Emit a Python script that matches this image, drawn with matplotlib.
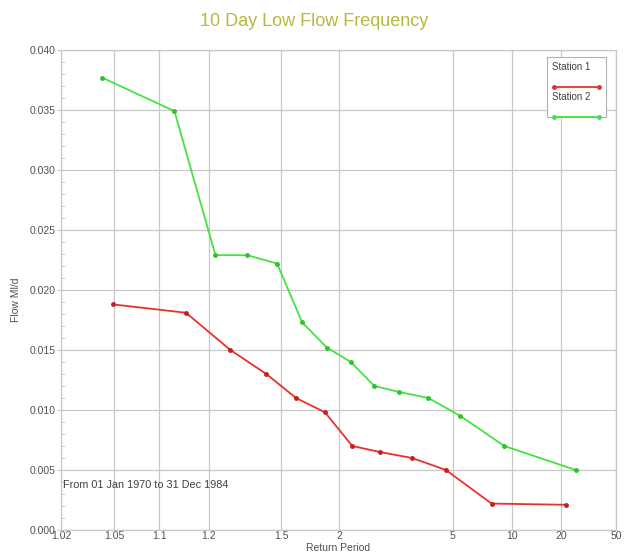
#!/usr/bin/env python3
"""10 day low flow frequency plot on a normal probability (return period) axis."""

import math
from statistics import NormalDist

import numpy as np
import matplotlib
matplotlib.use("Agg")
import matplotlib.pyplot as plt
from matplotlib.ticker import FixedLocator, FixedFormatter, AutoMinorLocator, NullLocator
from matplotlib.patches import Rectangle

plt.rcParams['font.family'] = ['Liberation Sans', 'DejaVu Sans']

# --- data ---
station1_T = [1.049, 1.147, 1.266, 1.418, 1.599, 1.847, 2.17, 2.62, 3.40, 4.67, 7.75, 21.6]
station1_Q = [0.0188, 0.0181, 0.0150, 0.0130, 0.0110, 0.0098, 0.0070, 0.0065, 0.0060, 0.0050, 0.0022, 0.0021]

station2_T = [1.041, 1.125, 1.219, 1.330, 1.477, 1.645, 1.866, 2.147, 2.52, 3.05, 3.94, 5.43, 9.07, 25.2]
station2_Q = [0.0377, 0.0349, 0.0229, 0.0229, 0.0222, 0.0173, 0.0152, 0.0140, 0.0120, 0.0115, 0.0110,
              0.0095, 0.0070, 0.0050]

period_ticks = [1.02, 1.05, 1.1, 1.2, 1.5, 2, 5, 10, 20, 50]
period_labels = ["1.02", "1.05", "1.1", "1.2", "1.5", "2", "5", "10", "20", "50"]
flow_ticks = [0.000, 0.005, 0.010, 0.015, 0.020, 0.025, 0.030, 0.035, 0.040]

RED = '#e8302c'
GREEN = '#44e244'
GRID = '#c8c8c8'
TXT = '#505050'

_nd = NormalDist()


def _fwd_scalar(t):
    p = 1.0 - 1.0 / t if t > 0 else 1e-9
    p = min(max(p, 1e-9), 1 - 1e-9)
    return _nd.inv_cdf(p)


def _inv_scalar(z):
    p = 0.5 * (1.0 + math.erf(z / math.sqrt(2.0)))
    p = min(p, 1 - 1e-12)
    return 1.0 / (1.0 - p)


fwd = np.vectorize(_fwd_scalar, otypes=[float])
inv = np.vectorize(_inv_scalar, otypes=[float])

fig = plt.figure(figsize=(6.24, 5.56), dpi=100)
ax = fig.add_axes([0.0978, 0.0468, 0.8894, 0.8633])

ax.set_xscale('function', functions=(fwd, inv))
ax.set_xlim(1.02, 50)
ax.set_ylim(0.0, 0.040)

ax.plot(station1_T, station1_Q, color=RED, lw=1.3, marker='o', ms=2.5, mfc='#c02020', mec='#c02020')
ax.plot(station2_T, station2_Q, color=GREEN, lw=1.3, marker='o', ms=2.5, mfc='#30c030', mec='#30c030')

ax.xaxis.set_major_locator(FixedLocator(period_ticks))
ax.xaxis.set_major_formatter(FixedFormatter(period_labels))
ax.xaxis.set_minor_locator(NullLocator())
ax.yaxis.set_major_locator(FixedLocator(flow_ticks))
ax.yaxis.set_major_formatter(FixedFormatter([f"{v:.3f}" for v in flow_ticks]))
ax.yaxis.set_minor_locator(AutoMinorLocator(5))

ax.tick_params(axis='x', length=0, pad=1, labelsize=7.5, labelcolor=TXT)
ax.tick_params(axis='y', which='major', length=3, direction='out', pad=1,
               labelsize=7.5, labelcolor=TXT, color=GRID)
ax.tick_params(axis='y', which='minor', length=3, direction='in', color=GRID)

ax.grid(True, which='major', color=GRID, lw=0.9)
for s in ax.spines.values():
    s.set_color(GRID)
    s.set_linewidth(0.9)

ax.set_xlabel("Return Period", fontsize=7.5, color=TXT)
ax.xaxis.set_label_coords(0.5, -0.027)
ax.set_ylabel("Flow Ml/d", fontsize=7.5, color=TXT)
ax.yaxis.set_label_coords(-0.072, 0.48)

fig.text(0.504, 0.962, "10 Day Low Flow Frequency", ha='center', va='center',
         fontsize=13, color='#b8b83e')

ax.text(0.003, 0.094, "From 01 Jan 1970 to 31 Dec 1984", transform=ax.transAxes,
        fontsize=7.8, color='#404040', ha='left', va='center')

# legend box: label above each line sample
ax.add_patch(Rectangle((0.876, 0.860), 0.106, 0.125, transform=ax.transAxes,
                       fc='white', ec='#b0b0b0', lw=0.8, zorder=5))
for i, (name, col) in enumerate([("Station 1", RED), ("Station 2", GREEN)]):
    y0 = 0.965 - i * 0.063
    ax.text(0.884, y0, name, transform=ax.transAxes, fontsize=7, color='#404040',
            ha='left', va='center', zorder=6)
    ax.plot([0.888, 0.970], [y0 - 0.042, y0 - 0.042], transform=ax.transAxes,
            color=col, lw=1.3, marker='o', ms=2.5, zorder=6, clip_on=False)

fig.savefig("out.png", dpi=100)
